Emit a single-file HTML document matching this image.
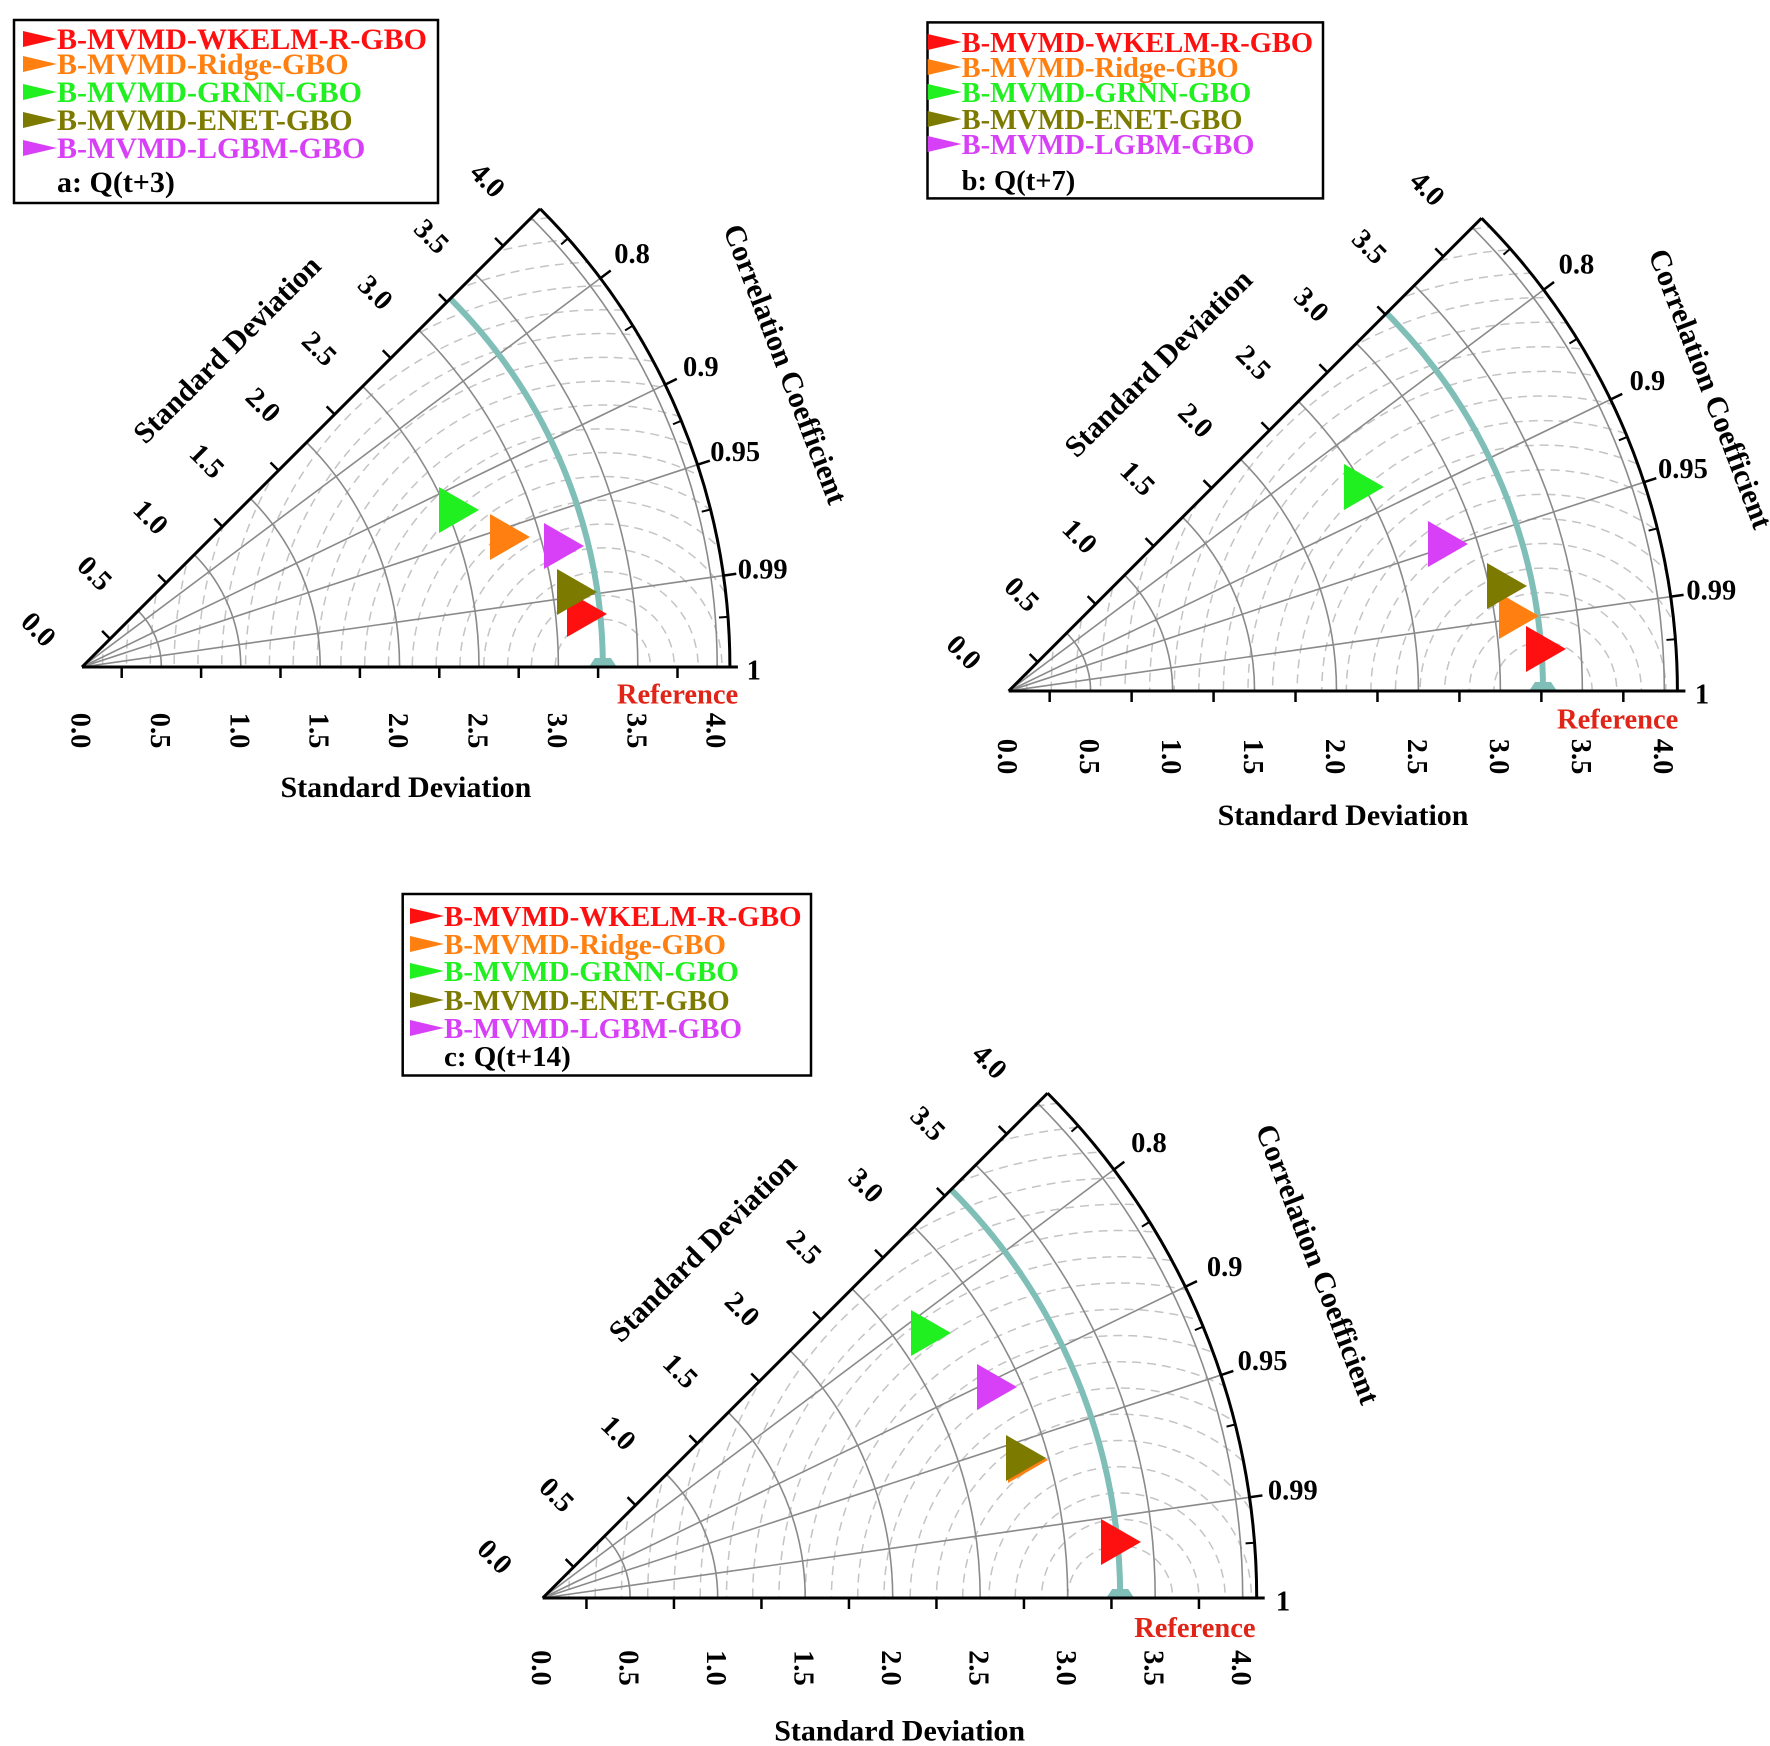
<!DOCTYPE html>
<html><head><meta charset="utf-8"><style>
html,body{margin:0;padding:0;background:#fff;overflow:hidden;}
svg{display:block;font-family:"Liberation Serif",serif;font-weight:bold;}
</style></head><body>
<svg id="s" width="1770" height="1746" viewBox="0 0 1770 1746" xmlns="http://www.w3.org/2000/svg"></svg>
<script>
const S=document.getElementById('s');const NS='http://www.w3.org/2000/svg';
function el(t,a,txt,parent){const e=document.createElementNS(NS,t);for(const k in a)e.setAttribute(k,a[k]);if(txt!==undefined)e.textContent=txt;(parent||S).appendChild(e);return e;}
const COL={red:'#ff1010',orange:'#ff8010',green:'#20f020',olive:'#7d7a00',mag:'#d840f8'};
const NAMES=[['B-MVMD-WKELM-R-GBO','red'],['B-MVMD-Ridge-GBO','orange'],['B-MVMD-GRNN-GBO','green'],['B-MVMD-ENET-GBO','olive'],['B-MVMD-LGBM-GBO','mag']];
let cid=0;
function chart(c){
 const Ox=c.ox,Oy=c.oy,u=c.u,R=4.08,s=u/158.8,th45=Math.PI/4;
 const P=(r,t)=>[Ox+r*u*Math.cos(t),Oy-r*u*Math.sin(t)];
 const arc=(r,t0,t1)=>{const a=P(r,t0),b=P(r,t1);return `M${a[0]},${a[1]} A${r*u},${r*u} 0 0 0 ${b[0]},${b[1]}`;};
 const id='cl'+(cid++);
 const cp=el('clipPath',{id:id});
 const A=P(R,0),B=P(R,th45);
 el('path',{d:`M${Ox},${Oy} L${A[0]},${A[1]} A${R*u},${R*u} 0 0 0 ${B[0]},${B[1]} Z`},undefined,cp);
 const g=el('g',{'clip-path':`url(#${id})`});
 for(let k=2;k<=28;k++){el('circle',{cx:Ox+c.ref*u,cy:Oy,r:k*0.15*u,fill:'none',stroke:'#c4c4c4','stroke-width':1.5,'stroke-dasharray':'9,6'},undefined,g);}
 for(let v=0.5;v<=4.01;v+=0.5){el('path',{d:arc(v,0,th45),fill:'none',stroke:'#8a8a8a','stroke-width':1.6});}
 [0.8,0.9,0.95,0.99].forEach(cc=>{const t=Math.acos(cc);const p=P(R,t);el('line',{x1:Ox,y1:Oy,x2:p[0],y2:p[1],stroke:'#8a8a8a','stroke-width':1.6});});
 el('path',{d:arc(c.ref,0,th45),fill:'none',stroke:'#7fbfb8','stroke-width':6});
 const rx=Ox+c.ref*u;
 el('path',{d:`M${rx-14},${Oy} L${rx-8},${Oy-9} L${rx+8},${Oy-9} L${rx+14},${Oy} Z`,fill:'#7fbfb8'});
 el('path',{d:arc(R,0,th45),fill:'none',stroke:'#000','stroke-width':3});
 el('line',{x1:Ox,y1:Oy,x2:A[0]+8,y2:A[1],stroke:'#000','stroke-width':3});
 el('line',{x1:Ox,y1:Oy,x2:B[0],y2:B[1],stroke:'#000','stroke-width':3});
 for(let k=0;k<8;k++){const v=0.25+0.5*k;const x=Ox+v*u;el('line',{x1:x,y1:Oy,x2:x,y2:Oy+11,stroke:'#000','stroke-width':2.5});
  const p=P(v,th45);el('line',{x1:p[0],y1:p[1],x2:p[0]-8,y2:p[1]-8,stroke:'#000','stroke-width':2.5});}
 [0.8,0.9,0.95,0.99].forEach(cc=>{const t=Math.acos(cc);const a=P(R,t),b=P(R+13/u,t);el('line',{x1:a[0],y1:a[1],x2:b[0],y2:b[1],stroke:'#000','stroke-width':2.5});});
 [0.75,0.85,0.925,0.97,0.997].forEach(cc=>{const t=Math.acos(cc);const a=P(R,t),b=P(R-9/u,t);el('line',{x1:a[0],y1:a[1],x2:b[0],y2:b[1],stroke:'#000','stroke-width':2});});
 const fs=28.5;
 for(let k=0;k<=8;k++){const v=k*0.5;const t=v.toFixed(1);
  const x=Ox+v*u-2,y=Oy+0.40*u;
  el('text',{x:x,y:y,'font-size':fs,'text-anchor':'middle','dominant-baseline':'central',transform:`rotate(90 ${x} ${y})`},t);
  const p=P(v,th45);const lx=p[0]-44*s,ly=p[1]-37*s;
  el('text',{x:lx,y:ly,'font-size':fs,'text-anchor':'middle','dominant-baseline':'central',transform:`rotate(45 ${lx} ${ly})`},t);}
 [['0.8',0.8],['0.9',0.9],['0.95',0.95],['0.99',0.99]].forEach(([t,cc])=>{const p=P(4.33,Math.acos(cc));el('text',{x:p[0],y:p[1],'font-size':fs,'text-anchor':'middle','dominant-baseline':'central'},t);});
 el('text',{x:Ox+4.23*u,y:Oy+4,'font-size':fs,'text-anchor':'middle','dominant-baseline':'central'},'1');
 el('text',{x:rx+14,y:Oy+26*s+2,'font-size':fs,fill:'#e02418','dominant-baseline':'central'},'Reference');
 const cc=P(c.ccr||4.82,23.3*Math.PI/180);
 el('text',{x:cc[0],y:cc[1],'font-size':30,'text-anchor':'middle','dominant-baseline':'central',transform:`rotate(69 ${cc[0]} ${cc[1]})`},'Correlation Coefficient');
 const k2=0.7071;const lx=Ox+2.06*u*k2-0.766*u*k2,ly=Oy-2.06*u*k2-0.766*u*k2;
 el('text',{x:lx,y:ly,'font-size':30,'text-anchor':'middle','dominant-baseline':'central',transform:`rotate(-45 ${lx} ${ly})`},'Standard Deviation');
 el('text',{x:Ox+2.04*u,y:Oy+0.76*u,'font-size':30,'text-anchor':'middle','dominant-baseline':'central'},'Standard Deviation');
 c.mk.forEach(([col,x,y])=>{el('polygon',{points:`${x-20},${y-23} ${x-20},${y+23} ${x+20},${y}`,fill:COL[col]});});
 const L=c.leg;
 el('rect',{x:L.x,y:L.y,width:L.w,height:L.h,fill:'#fff',stroke:'#000','stroke-width':2.5});
 NAMES.forEach(([n,col],i)=>{const y=L.rows[i];
  el('polygon',{points:`${L.tx-34},${y-8} ${L.tx-34},${y+8} ${L.tx},${y}`,fill:COL[col]});
  el('text',{x:L.tx,y:y+10,'font-size':L.fs,fill:COL[col]},n);});
 el('text',{x:L.tx,y:L.rows[5]+10,'font-size':L.fs},c.title);
}
chart({ox:82,oy:667,u:158.8,ref:3.28,title:'a: Q(t+3)',
 mk:[['red',587,614],['orange',510,537],['green',459,510],['olive',577,592],['mag',564,546]],
 leg:{x:14,y:20,w:424,h:183,tx:57,fs:30,rows:[39,64,92,120,148,182]}});
chart({ox:1008.7,oy:691,u:163.9,ref:3.26,ccr:4.66,title:'b: Q(t+7)',
 mk:[['red',1546,649],['orange',1519,616],['green',1364,487],['olive',1507,586],['mag',1448,544]],
 leg:{x:927.5,y:22.4,w:395.5,h:176,tx:961.6,fs:28.5,rows:[42,67,92,119,144,180]}});
chart({ox:542.7,oy:1598,u:175,ref:3.3,title:'c: Q(t+14)',
 mk:[['red',1121,1542],['orange',1028,1460],['olive',1026,1458],['green',931,1333],['mag',997,1387]],
 leg:{x:402.7,y:894,w:408.3,h:181.5,tx:444,fs:29,rows:[916,944,971,1000,1028,1056]}});
</script>
</body></html>
